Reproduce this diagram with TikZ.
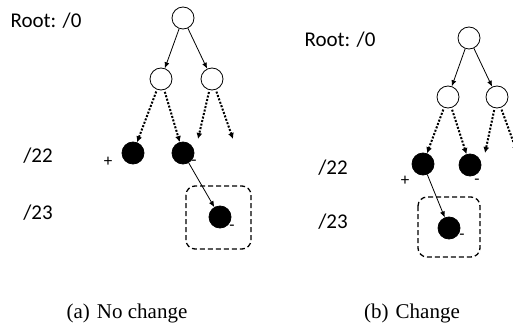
\documentclass[tikz,border=0pt]{standalone}
\usepackage{fontspec}
\setmainfont{Liberation Serif}
\newfontfamily\labelfont{Carlito}
\usetikzlibrary{arrows, arrows.meta}
\usetikzlibrary{positioning}

\tikzset{
  hollow/.style={circle, draw, line width=0.8pt, minimum size=22pt, inner sep=0pt},
  full/.style={circle, draw, fill=black, line width=0.8pt, minimum size=22pt, inner sep=0pt},
  link/.style={-{Latex[length=6pt,width=5pt]}, line width=0.8pt},
  hint/.style={-{Latex[length=6pt,width=6pt]}, line width=2pt, dash pattern=on 2pt off 1.6pt, shorten <=2pt},
  fence/.style={draw, dash pattern=on 5pt off 3pt, rounded corners=9pt, line width=1.3pt},
  lbl/.style={font=\labelfont\fontsize{21}{22}\selectfont},
  sign/.style={font=\labelfont\fontsize{17}{17}\selectfont, inner sep=0pt},
  subcap/.style={font=\fontsize{21}{22}\selectfont},
}

\begin{document}
\begin{tikzpicture}[x=1pt, y=-1pt]

\useasboundingbox (0,0) rectangle (513,326);
\clip (0,0) rectangle (513,326);

%%% (a) no change

%levels
\node [lbl] (rootA) at (46,21) {Root: /0};
\node [lbl] (lvA22) at (38,156) {/22};
\node [lbl] (lvA23) at (38,213) {/23};

%tree
\node [hollow] (a0) at (183,18) {};
\node [hollow] (a1) at (161,79) {};
\node [hollow] (a2) at (212,79) {};
\node [full] (a3) at (133,153) {};
\node [full] (a4) at (183,153) {};
\node [full] (a5) at (220,217) {};
\coordinate (a6) at (198,139);
\coordinate (a7) at (233,139);

\draw [link] (a0) -- (a1);
\draw [link] (a0) -- (a2);
\draw [hint] (a1) -- (a3);
\draw [hint] (a1) -- (a4);
\draw [hint] (a2) -- (a6);
\draw [hint] (a2) -- (a7);
\draw [link] (a4) -- (a5);

%box
\draw [fence] (186,186) rectangle (251,249);

%signs
\node [sign] (pA) at (108,162) {+};
\node [sign] (mA) at (194,163) {-};
\node [sign] (mA2) at (232,228) {-};

%%% (b) change

%levels
\node [lbl] (rootB) at (340,40) {Root: /0};
\node [lbl] (lvB22) at (333,168) {/22};
\node [lbl] (lvB23) at (333,222) {/23};

%tree
\node [hollow] (b0) at (469,38) {};
\node [hollow] (b1) at (448,97) {};
\node [hollow] (b2) at (497,97) {};
\node [full] (b3) at (423,164) {};
\node [full] (b4) at (470,165) {};
\node [full] (b5) at (449,228) {};
\coordinate (b6) at (485,153);
\coordinate (b7) at (517,152);

\draw [link] (b0) -- (b1);
\draw [link] (b0) -- (b2);
\draw [hint] (b1) -- (b3);
\draw [hint] (b1) -- (b4);
\draw [hint] (b2) -- (b6);
\draw [hint] (b2) -- (b7);
\draw [link] (b3) -- (b5);

%box
\draw [fence] (418,197) rectangle (480,257);

%signs
\node [sign] (pB) at (405,181) {+};
\node [sign] (mB) at (477,182) {-};
\node [sign] (mB2) at (462,237) {-};

%captions
\node [subcap] (capA) at (127,313) {(a)\hspace{7pt}No change};
\node [subcap] (capB) at (412,313) {(b)\hspace{7pt}Change};

\end{tikzpicture}
\end{document}
